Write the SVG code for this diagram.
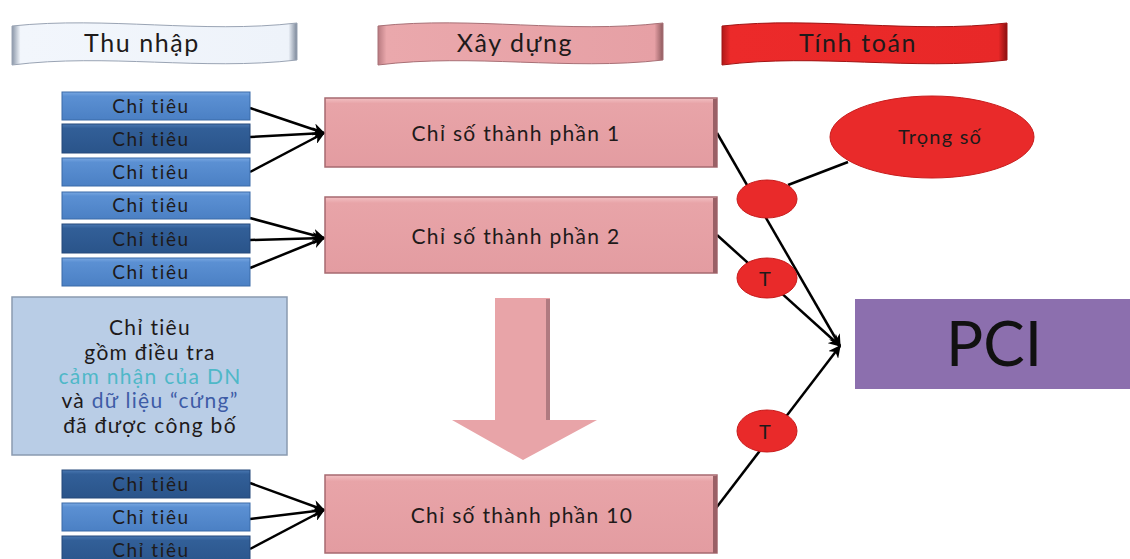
<svg xmlns="http://www.w3.org/2000/svg" width="1130" height="559" viewBox="0 0 1130 559">
<style>
text{font-family:Lato,"Open Sans","Liberation Sans",sans-serif;fill:#1e1a1a;text-anchor:middle}
.ct{font-size:19px;letter-spacing:1.6px}
.cs{font-size:21px;letter-spacing:1.3px}
.bn{font-size:25px;letter-spacing:1.6px}
.ib{font-size:21px;letter-spacing:1.3px}
.ln{stroke:#000;stroke-width:2.5;fill:none}
.ar{marker-end:url(#ah)}
</style>
<defs>
<marker id="ah" viewBox="0 0 10 10" refX="9" refY="5" markerWidth="5" markerHeight="5" orient="auto" markerUnits="strokeWidth">
<path d="M0,0 L10,5 L0,10 L3,5 Z" fill="#000"/>
</marker>
<linearGradient id="gW" x1="0" y1="0" x2="1" y2="0"><stop offset="0" stop-color="#8a96a8"/><stop offset="0.03" stop-color="#f2f6fc"/><stop offset="0.97" stop-color="#eef3fa"/><stop offset="1" stop-color="#7a8698"/></linearGradient>
<linearGradient id="gP" x1="0" y1="0" x2="1" y2="0"><stop offset="0" stop-color="#b87a80"/><stop offset="0.03" stop-color="#eaa8ac"/><stop offset="0.97" stop-color="#e6a0a5"/><stop offset="1" stop-color="#8e5a5e"/></linearGradient>
<linearGradient id="gR" x1="0" y1="0" x2="1" y2="0"><stop offset="0" stop-color="#b01818"/><stop offset="0.03" stop-color="#ec2a2a"/><stop offset="0.97" stop-color="#e82828"/><stop offset="1" stop-color="#8a1010"/></linearGradient>
<linearGradient id="gL" x1="0" y1="0" x2="0" y2="1"><stop offset="0" stop-color="#79a8e2"/><stop offset="0.15" stop-color="#5b90d3"/><stop offset="1" stop-color="#4b80c4"/></linearGradient>
<linearGradient id="gD" x1="0" y1="0" x2="0" y2="1"><stop offset="0" stop-color="#4a78b2"/><stop offset="0.15" stop-color="#325f98"/><stop offset="1" stop-color="#2a548a"/></linearGradient>
<linearGradient id="gC" x1="0" y1="0" x2="0" y2="1"><stop offset="0" stop-color="#f2c0c3"/><stop offset="0.08" stop-color="#e8a4a8"/><stop offset="1" stop-color="#e39ca1"/></linearGradient>
<path id="wave" d="M0,6 C95,-4 190,14 285,3 L285,40 C190,51 95,33 0,45 Z"/>
</defs>
<rect width="1130" height="559" fill="#fff"/>

<g id="banner-thu-nhap">
<use href="#wave" x="12" y="20" fill="url(#gW)" stroke="#9aa4b4" stroke-width="1"/>
<text class="bn" x="142" y="52">Thu nhập</text>
</g>
<g id="banner-xay-dung">
<use href="#wave" x="378" y="20" fill="url(#gP)" stroke="#a87076" stroke-width="1"/>
<text class="bn" x="515" y="52">Xây dựng</text>
</g>
<g id="banner-tinh-toan">
<use href="#wave" x="722" y="20" fill="url(#gR)" stroke="#a01414" stroke-width="1"/>
<text class="bn" x="858" y="52">Tính toán</text>
</g>

<g id="connectors">
<line class="ln ar" x1="250" y1="108" x2="324" y2="133"/>
<line class="ln ar" x1="250" y1="137" x2="324" y2="133"/>
<line class="ln ar" x1="250" y1="172" x2="324" y2="133"/>
<line class="ln ar" x1="250" y1="218" x2="324" y2="238"/>
<line class="ln ar" x1="250" y1="240" x2="324" y2="238"/>
<line class="ln ar" x1="250" y1="268" x2="324" y2="238"/>
<line class="ln ar" x1="250" y1="483" x2="324" y2="510"/>
<line class="ln ar" x1="250" y1="519" x2="324" y2="510"/>
<line class="ln ar" x1="250" y1="549" x2="324" y2="510"/>
<line class="ln ar" x1="717" y1="133" x2="840" y2="346"/>
<line class="ln ar" x1="717" y1="235" x2="840" y2="346"/>
<line class="ln ar" x1="713" y1="512" x2="840" y2="346"/>
<line class="ln" x1="788" y1="185" x2="848" y2="162"/>
</g>

<g id="ct1"><rect x="62" y="92" width="188" height="28" fill="url(#gL)" stroke="#3a6aa8"/><text class="ct" x="151" y="113">Chỉ tiêu</text></g>
<g id="ct2"><rect x="62" y="124" width="188" height="29" fill="url(#gD)" stroke="#24487a"/><text class="ct" x="151" y="146">Chỉ tiêu</text></g>
<g id="ct3"><rect x="62" y="158" width="188" height="28" fill="url(#gL)" stroke="#3a6aa8"/><text class="ct" x="151" y="179">Chỉ tiêu</text></g>
<g id="ct4"><rect x="62" y="192" width="188" height="27" fill="url(#gL)" stroke="#3a6aa8"/><text class="ct" x="151" y="212">Chỉ tiêu</text></g>
<g id="ct5"><rect x="62" y="224" width="188" height="29" fill="url(#gD)" stroke="#24487a"/><text class="ct" x="151" y="246">Chỉ tiêu</text></g>
<g id="ct6"><rect x="62" y="258" width="188" height="28" fill="url(#gL)" stroke="#3a6aa8"/><text class="ct" x="151" y="279">Chỉ tiêu</text></g>
<g id="ct7"><rect x="62" y="470" width="188" height="28" fill="url(#gD)" stroke="#24487a"/><text class="ct" x="151" y="491">Chỉ tiêu</text></g>
<g id="ct8"><rect x="62" y="503" width="188" height="28" fill="url(#gL)" stroke="#3a6aa8"/><text class="ct" x="151" y="524">Chỉ tiêu</text></g>
<g id="ct9"><rect x="62" y="536" width="188" height="30" fill="url(#gD)" stroke="#24487a"/><text class="ct" x="151" y="557">Chỉ tiêu</text></g>

<g id="cs1"><rect x="325" y="98" width="392" height="69" fill="url(#gC)" stroke="#a66a70" stroke-width="1.5"/><rect x="713" y="99" width="4" height="68" fill="#9a6066"/><text class="cs" x="516" y="141">Chỉ số thành phần 1</text></g>
<g id="cs2"><rect x="325" y="197" width="392" height="76" fill="url(#gC)" stroke="#a66a70" stroke-width="1.5"/><rect x="713" y="198" width="4" height="75" fill="#9a6066"/><text class="cs" x="516" y="244">Chỉ số thành phần 2</text></g>
<g id="cs10"><rect x="325" y="475" width="392" height="78" fill="url(#gC)" stroke="#a66a70" stroke-width="1.5"/><rect x="713" y="476" width="4" height="77" fill="#9a6066"/><text class="cs" x="522" y="523">Chỉ số thành phần 10</text></g>

<g id="down-arrow">
<path d="M495,298 L550,298 L550,420 L597,420 L523,460 L452,420 L495,420 Z" fill="#e8a4a8"/>
<rect x="546" y="299" width="4" height="121" fill="#b07a80"/>
</g>

<g id="info-box">
<rect x="12" y="297" width="275" height="158" fill="#b9cde6" stroke="#8a9ab0" stroke-width="1.5"/>
<text class="ib" x="150" y="335">Chỉ tiêu</text>
<text class="ib" x="150" y="360">gồm điều tra</text>
<text class="ib" x="150" y="384" style="fill:#4fb8c8">cảm nhận của DN</text>
<text class="ib" x="150" y="408">và <tspan style="fill:#3e5ca6">dữ liệu “cứng”</tspan></text>
<text class="ib" x="150" y="433">đã được công bố</text>
</g>

<g id="trong-so">
<ellipse cx="932" cy="137" rx="102" ry="41" fill="#e92a2a" stroke="#c81c1c"/>
<text x="940" y="144" style="font-size:20px;letter-spacing:1.2px">Trọng số</text>
</g>
<g id="w1"><ellipse cx="767" cy="199" rx="30" ry="19" fill="#e92a2a" stroke="#c81c1c"/></g>
<g id="t2"><ellipse cx="767" cy="278" rx="30" ry="20" fill="#e92a2a" stroke="#c81c1c"/><text x="765" y="286" style="font-size:20px">T</text></g>
<g id="t3"><ellipse cx="767" cy="431" rx="30" ry="21" fill="#e92a2a" stroke="#c81c1c"/><text x="765" y="439" style="font-size:20px">T</text></g>

<g id="pci">
<rect x="855" y="299" width="275" height="90" fill="#8c6fae"/>
<text x="994" y="366" style="font-size:62px;fill:#111">PCI</text>
</g>
</svg>
